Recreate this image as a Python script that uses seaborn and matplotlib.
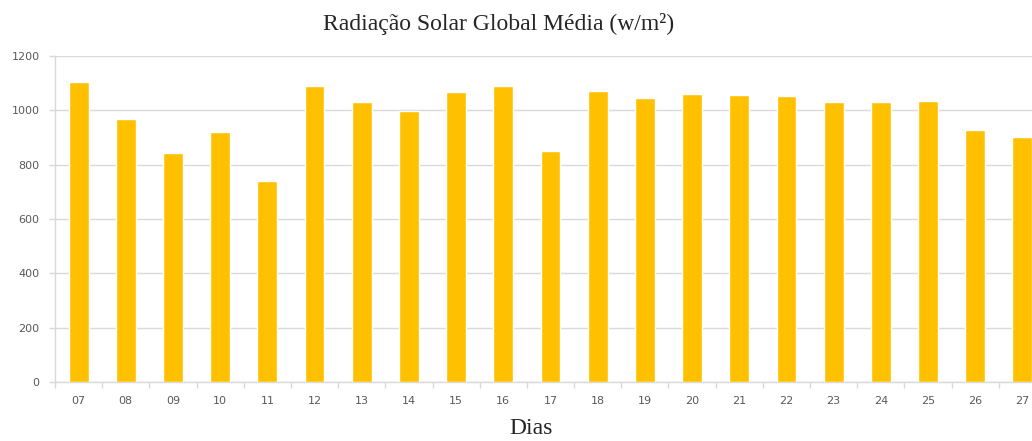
import matplotlib
matplotlib.use("Agg")
import matplotlib.pyplot as plt
import seaborn as sns
import pandas as pd
import numpy as np

# Daily mean global solar radiation
dias = ["07", "08", "09", "10", "11", "12", "13", "14", "15", "16", "17",
        "18", "19", "20", "21", "22", "23", "24", "25", "26", "27"]
radiacao = [1103, 968, 842, 921, 741, 1089, 1032, 998, 1068, 1089, 851,
            1071, 1046, 1059, 1055, 1053, 1032, 1032, 1034, 927, 903]
y_ticks = [0, 200, 400, 600, 800, 1000, 1200]

df = pd.DataFrame({"Dias": dias, "Radiacao": radiacao})

sns.set_theme(style="white")
plt.rcParams["font.family"] = ["DejaVu Sans"]

fig = plt.figure(figsize=(10.32, 4.41), dpi=100)
ax = fig.add_axes([55 / 1032, 1 - 382 / 441, (1046 - 55) / 1032, (382 - 56) / 441])

bar_color = "#FFC000"
grid_color = "#D9D9D9"
text_color = "#595959"

sns.barplot(data=df, x="Dias", y="Radiacao", color=bar_color, width=0.42,
            saturation=1, ax=ax, zorder=3)

ax.set_xlim(-0.5, len(dias) - 0.5)
ax.set_ylim(0, 1200)
ax.set_yticks(y_ticks)
ax.set_yticklabels([str(v) for v in y_ticks])
ax.yaxis.grid(True, color=grid_color, linewidth=1.0, zorder=0)
ax.xaxis.grid(False)

for side in ["top", "right"]:
    ax.spines[side].set_visible(False)
for side in ["left", "bottom"]:
    ax.spines[side].set_color(grid_color)
    ax.spines[side].set_linewidth(1.0)

# Category separators as small ticks under the axis
ax.set_xticks(np.arange(-0.5, len(dias) + 0.5, 1.0), minor=True)
ax.tick_params(axis="x", which="major", length=0, pad=10, labelsize=8,
               labelcolor=text_color)
ax.tick_params(axis="x", which="minor", length=4, width=1, color=grid_color,
               direction="out", bottom=True)
ax.tick_params(axis="y", which="major", length=4, width=1, color=grid_color,
               pad=7, labelsize=8, labelcolor=text_color, left=True)

ax.set_xlabel("")
ax.set_ylabel("")

fig.text(499 / 1032, 1 - 24 / 441, "Radiação Solar Global Média (w/m²)",
         family="Liberation Serif", fontsize=17, color="#262626",
         ha="center", va="center")
fig.text(531 / 1032, 1 - 428 / 441, "Dias", family="Liberation Serif",
         fontsize=17, color="#262626", ha="center", va="center")

fig.savefig("out.png", dpi=100)
